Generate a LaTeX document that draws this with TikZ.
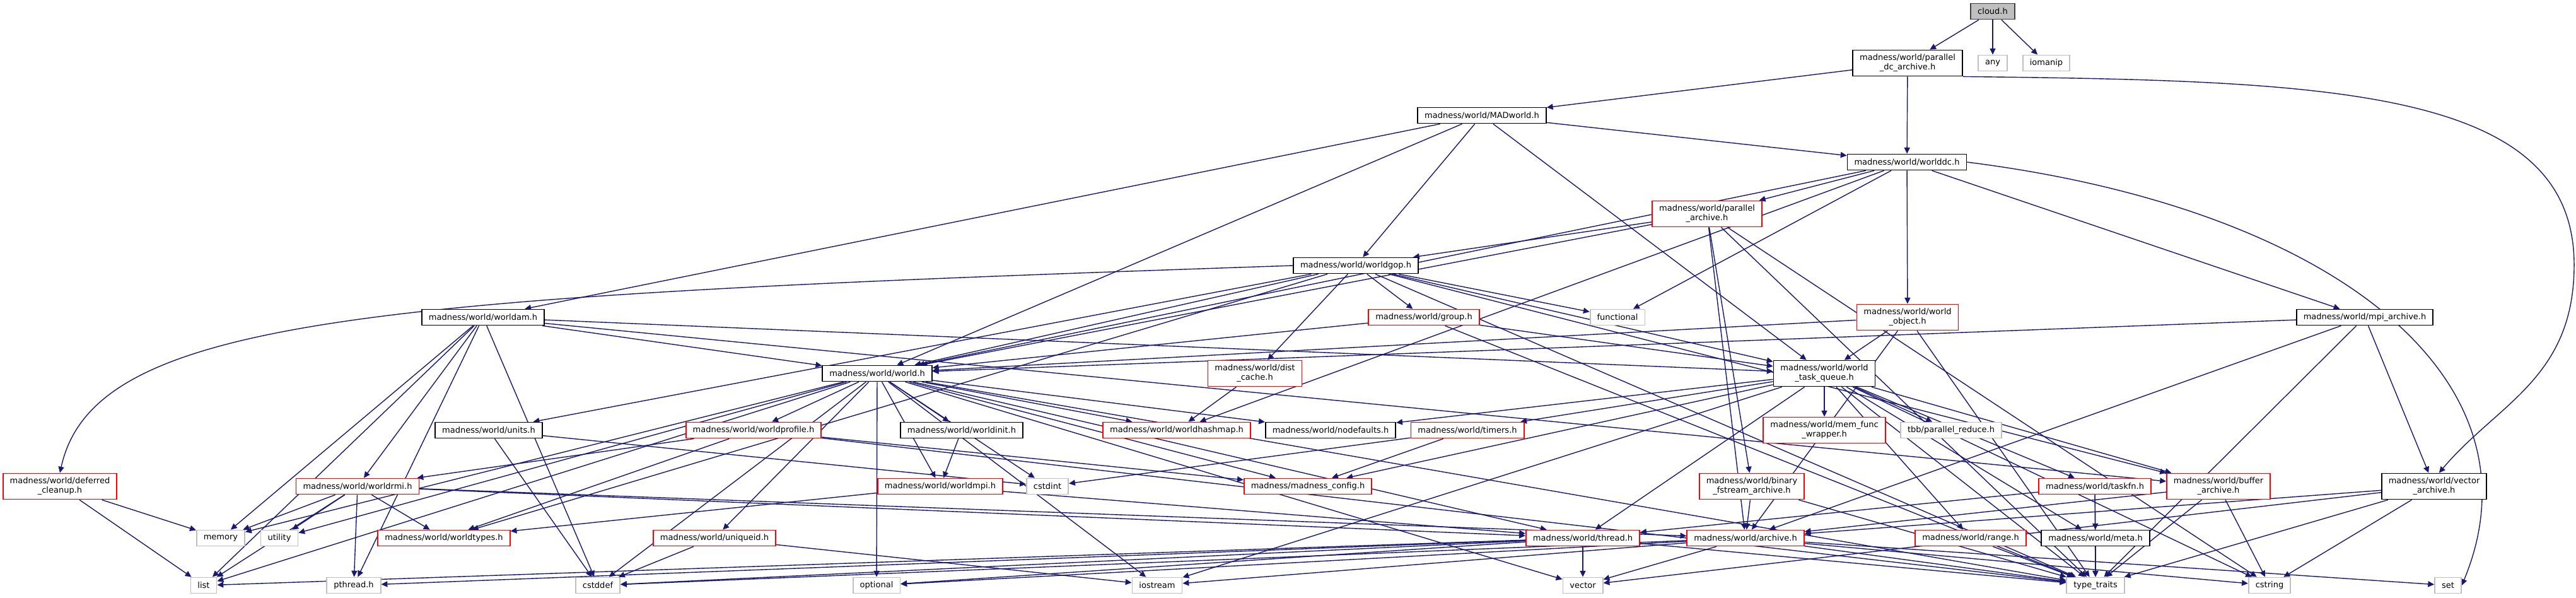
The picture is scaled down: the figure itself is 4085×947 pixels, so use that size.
\documentclass[tikz,border=0pt]{standalone}
\usepackage{fontspec}
\setmainfont{DejaVu Sans}
\usetikzlibrary{arrows.meta}
\definecolor{edgeblue}{HTML}{191970}
\definecolor{sysgray}{HTML}{BFBFBF}
\definecolor{rootdraw}{HTML}{404040}
\pgfdeclarelayer{bg}
\pgfsetlayers{bg,main}
\tikzset{
  filebox/.style={rectangle, fill=white, line width=0.5pt, font=\fontsize{3.7}{4.3}\selectfont,
    inner xsep=0.11cm, inner ysep=0pt, minimum height=0.25cm, align=center},
  docfile/.style={filebox, draw=black},
  redfile/.style={filebox, draw=red},
  sysfile/.style={filebox, draw=sysgray},
  rootfile/.style={filebox, draw=rootdraw, fill=sysgray},
  twoline/.style={minimum height=0.41cm},
  incl/.style={-{Triangle[length=2.8pt,width=2.6pt]}, color=edgeblue, line width=0.4pt},
}

\begin{document}
\begin{tikzpicture}[x=0.01cm,y=-0.01cm]
\useasboundingbox (0,0) rectangle (4085,947);
% rows, top to bottom (coordinates in pixels, y downwards)
\node[rootfile] (cloud) at (3160,18) {cloud.h};
\node[docfile,twoline] (pdc) at (3025,100) {madness/world/parallel\\\_dc\_archive.h};
\node[sysfile] (any) at (3160,100) {any};
\node[sysfile] (iomanip) at (3245,100) {iomanip};
\node[docfile] (MADworld) at (2350,183) {madness/world/MADworld.h};
\node[docfile] (worlddc) at (3024,257) {madness/world/worlddc.h};
\node[redfile,twoline] (parch) at (2707,339) {madness/world/parallel\\\_archive.h};
\node[docfile] (worldgop) at (2150,421) {madness/world/worldgop.h};
\node[docfile] (worldam) at (766,503) {madness/world/worldam.h};
\node[redfile] (group) at (2258,503) {madness/world/group.h};
\node[sysfile] (functional) at (2565,503) {functional};
\node[redfile,twoline] (wobj) at (3025,503) {madness/world/world\\\_object.h};
\node[docfile] (mpiarch) at (3750,503) {madness/world/mpi\_archive.h};
\node[docfile] (world) at (1391,592) {madness/world/world.h};
\node[redfile,twoline] (distcache) at (1990,592) {madness/world/dist\\\_cache.h};
\node[docfile,twoline] (wtq) at (2893,592) {madness/world/world\\\_task\_queue.h};
\node[docfile] (units) at (775,682) {madness/world/units.h};
\node[redfile] (wprofile) at (1195,682) {madness/world/worldprofile.h};
\node[docfile] (winit) at (1525,682) {madness/world/worldinit.h};
\node[redfile] (whashmap) at (1866,682) {madness/world/worldhashmap.h};
\node[docfile] (nodefaults) at (2110,682) {madness/world/nodefaults.h};
\node[redfile] (timers) at (2327,682) {madness/world/timers.h};
\node[redfile,twoline] (memfunc) at (2893,682) {madness/world/mem\_func\\\_wrapper.h};
\node[sysfile] (tbb) at (3094,682) {tbb/parallel\_reduce.h};
\node[redfile,twoline] (deferred) at (95,771) {madness/world/deferred\\\_cleanup.h};
\node[redfile] (worldrmi) at (567,771) {madness/world/worldrmi.h};
\node[redfile] (worldmpi) at (1491,771) {madness/world/worldmpi.h};
\node[sysfile] (cstdint) at (1661,771) {cstdint};
\node[redfile] (mconfig) at (2074,771) {madness/madness\_config.h};
\node[redfile,twoline] (binfs) at (2778,771) {madness/world/binary\\\_fstream\_archive.h};
\node[redfile] (taskfn) at (3322,771) {madness/world/taskfn.h};
\node[redfile,twoline] (bufarch) at (3518,771) {madness/world/buffer\\\_archive.h};
\node[docfile,twoline] (vecarch) at (3860,771) {madness/world/vector\\\_archive.h};
\node[sysfile] (memory) at (350,853) {memory};
\node[sysfile] (utility) at (443,853) {utility};
\node[redfile] (wtypes) at (704,853) {madness/world/worldtypes.h};
\node[redfile] (uniqueid) at (1133,853) {madness/world/uniqueid.h};
\node[redfile] (thread) at (2510,853) {madness/world/thread.h};
\node[redfile] (archive) at (2768,853) {madness/world/archive.h};
\node[redfile] (range) at (3125,853) {madness/world/range.h};
\node[docfile] (meta) at (3323,853) {madness/world/meta.h};
\node[sysfile] (list) at (323,928) {list};
\node[sysfile] (pthread) at (561,928) {pthread.h};
\node[sysfile] (cstddef) at (948,928) {cstddef};
\node[sysfile] (optional) at (1390,928) {optional};
\node[sysfile] (iostream) at (1835,928) {iostream};
\node[sysfile] (vector) at (2510,928) {vector};
\node[sysfile] (typetraits) at (3323,928) {type\_traits};
\node[sysfile] (cstring) at (3599,928) {cstring};
\node[sysfile] (set) at (3882,928) {set};
% include edges
\begin{pgfonlayer}{bg}
\foreach \t in {pdc,any,iomanip} \draw[incl] (cloud) -- (\t);
\foreach \t in {MADworld,worlddc} \draw[incl] (pdc) -- (\t);
\draw[incl] (pdc.south east) .. controls (3700,128) and (4082,140) .. (4082,420)
  .. controls (4082,600) and (3960,640) .. (vecarch.70);
\foreach \t in {worldam,world,worldgop,worlddc,wtq} \draw[incl] (MADworld) -- (\t);
\foreach \t in {parch,wobj,mpiarch,functional,whashmap,world} \draw[incl] (worlddc) -- (\t);
\draw[incl] (worlddc.east) .. controls (3700,330) and (4040,600) .. (set.east);
\foreach \t in {worldgop,world,binfs,archive,cstring,typetraits} \draw[incl] (parch) -- (\t);
\foreach \t in {group,functional,wtq,world,distcache,wtypes,units,bufarch,typetraits}
  \draw[incl] (worldgop) -- (\t);
\draw[incl] (worldgop.west) .. controls (600,470) and (150,500) .. (deferred.north);
\foreach \t in {world,worldrmi,memory,pthread,cstddef,wtq,bufarch,list} \draw[incl] (worldam) -- (\t);
\foreach \t in {wprofile,winit,whashmap,nodefaults,cstdint,worldmpi,mconfig,uniqueid,optional,
  iostream,list,memory,utility,cstddef,thread,vector,typetraits} \draw[incl] (world) -- (\t);
\foreach \t in {mconfig,worldrmi,wtypes,typetraits} \draw[incl] (wprofile) -- (\t);
\draw[incl] (winit) -- (worldmpi);
\foreach \t in {wtypes,thread} \draw[incl] (worldmpi) -- (\t);
\foreach \t in {cstdint,mconfig} \draw[incl] (timers) -- (\t);
\foreach \t in {memory,utility,list,pthread,wtypes,thread,archive} \draw[incl] (worldrmi) -- (\t);
\foreach \t in {memory,list} \draw[incl] (deferred) -- (\t);
\foreach \t in {cstddef,cstdint} \draw[incl] (units) -- (\t);
\foreach \t in {cstddef,iostream} \draw[incl] (uniqueid) -- (\t);
\draw[incl] (distcache) -- (whashmap);
\foreach \t in {world,wtq,typetraits} \draw[incl] (group) -- (\t);
\foreach \t in {wtq,world,archive,typetraits} \draw[incl] (wobj) -- (\t);
\foreach \t in {world,archive,typetraits,vecarch} \draw[incl] (mpiarch) -- (\t);
\foreach \t in {nodefaults,timers,mconfig,memfunc,tbb,taskfn,bufarch,range,meta,thread,iostream,
  typetraits,cstring} \draw[incl] (wtq) -- (\t);
\foreach \t in {meta,typetraits,thread} \draw[incl] (taskfn) -- (\t);
\foreach \t in {archive,typetraits,cstring} \draw[incl] (bufarch) -- (\t);
\foreach \t in {archive,vector,typetraits,cstring} \draw[incl] (vecarch) -- (\t);
\foreach \t in {archive,typetraits} \draw[incl] (binfs) -- (\t);
\foreach \t in {vector,typetraits,pthread,cstddef,list,optional} \draw[incl] (thread) -- (\t);
\foreach \t in {vector,typetraits,cstring,set,cstddef,iostream,optional} \draw[incl] (archive) -- (\t);
\draw[incl] (range) -- (typetraits);
\draw[incl] (meta) -- (typetraits);
\end{pgfonlayer}
\end{tikzpicture}
\end{document}
